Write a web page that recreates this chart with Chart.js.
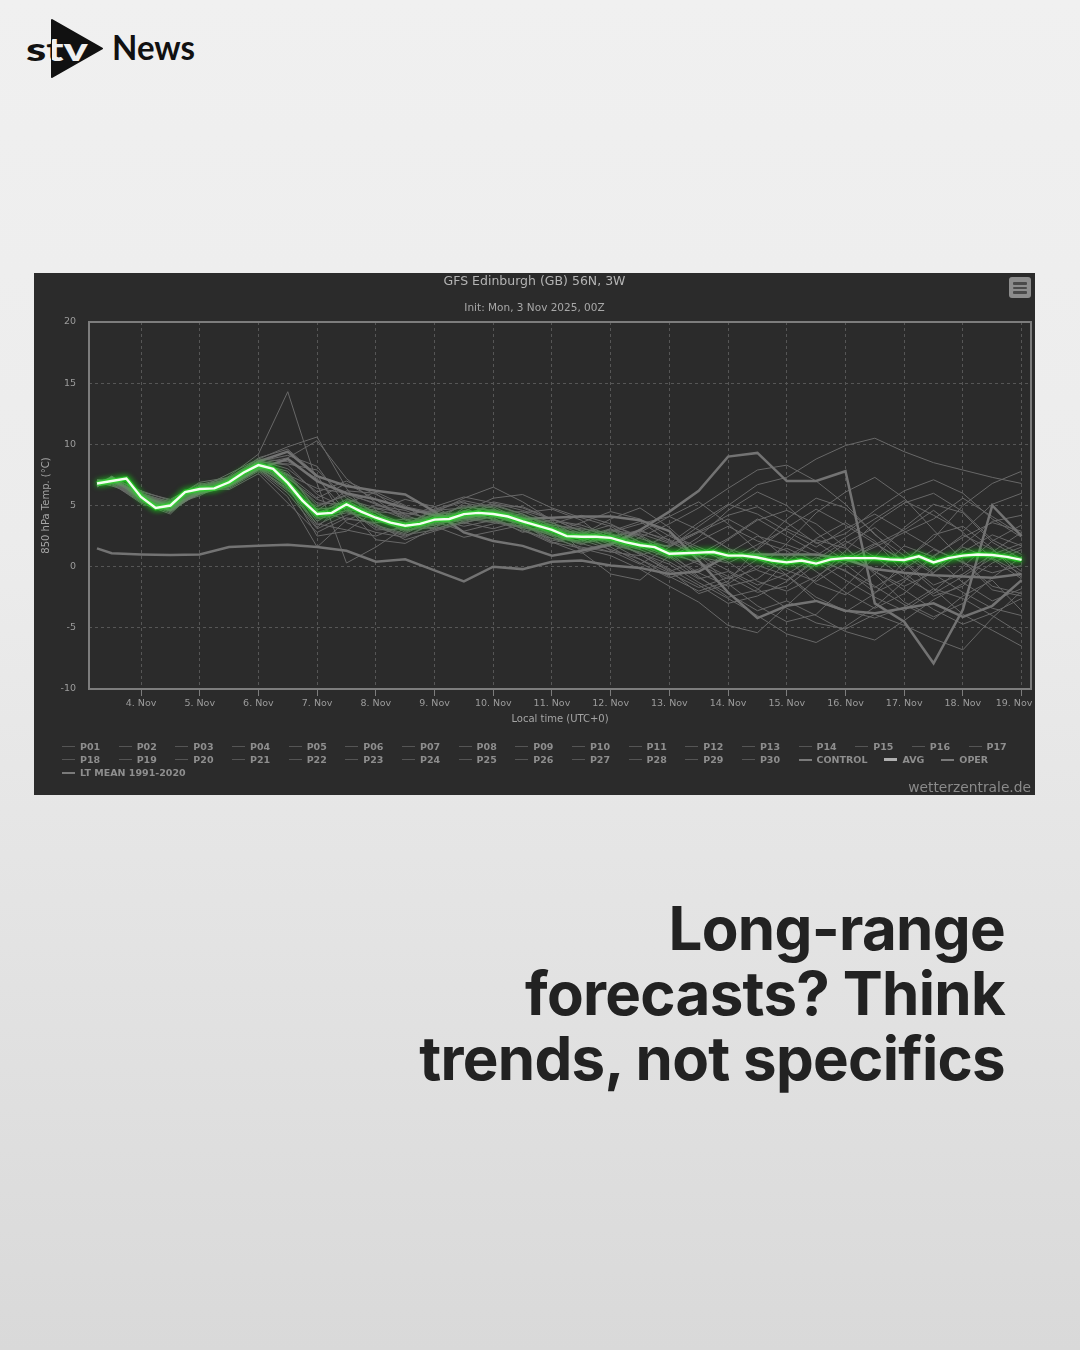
<!DOCTYPE html>
<html>
<head>
<meta charset="utf-8">
<script src="https://cdn.jsdelivr.net/npm/chart.js@4.4.1/dist/chart.umd.min.js"></script>
<style>
  html, body { margin: 0; padding: 0; }
  body {
    width: 1080px; height: 1350px; position: relative; overflow: hidden;
    background: linear-gradient(#f0f0f0 0%, #ececec 40%, #e3e3e3 70%, #d9d9d9 100%);
    font-family: "DejaVu Sans", sans-serif;
  }
  #logo { position: absolute; left: 0; top: 0; }
  #panel { position: absolute; left: 34px; top: 273px; width: 1001px; height: 522px; background: #2b2b2b; }
  #chart { position: absolute; left: 0; top: 0; }
  .ttl { position: absolute; left: 0; width: 1001px; text-align: center; color: #b4b4b4; white-space: nowrap; }
  #t1 { top: 0px; font-size: 12.5px; }
  #t2 { top: 28px; font-size: 10.5px; color: #a8a8a8; }
  #menu { position: absolute; left: 975px; top: 4px; width: 22px; height: 21px; background: #8c8c8c; border-radius: 3px; }
  #menu i { position: absolute; left: 4px; width: 14px; height: 2.5px; background: #4a4a4a; border-radius: 1px; }
  #legend { position: absolute; left: 28px; top: 467px; width: 975px; display: flex; flex-wrap: wrap; }
  .it { display: flex; align-items: center; height: 13px; font-weight: bold; font-size: 9.5px; color: #8e8e8e; white-space: nowrap; }
  .it b { display: inline-block; width: 13px; margin-right: 5px; }
  #credit { position: absolute; right: 4px; top: 506px; font-size: 13.8px; color: #8a8a8a; }
  #headline {
    position: absolute; right: 75px; top: 896px; text-align: right;
    font-family: Inter, "Noto Sans", sans-serif; font-weight: 700; font-size: 60px; line-height: 65px;
    color: #222222; letter-spacing: -0.7px;
  }
</style>
</head>
<body>
<svg id="logo" width="220" height="100" viewBox="0 0 220 100">
  <defs>
    <clipPath id="tri"><polygon points="52,20 102,48.5 52,77"/></clipPath>
  </defs>
  <polygon points="52,20 102,48.5 52,77" fill="#111" stroke="#111" stroke-width="2" stroke-linejoin="round"/>
  <text x="26" y="61" font-family="Lato, sans-serif" font-weight="900" font-size="33" textLength="62" lengthAdjust="spacingAndGlyphs" fill="#111">stv</text>
  <g clip-path="url(#tri)">
    <text x="26" y="61" font-family="Lato, sans-serif" font-weight="900" font-size="33" textLength="62" lengthAdjust="spacingAndGlyphs" fill="#f0f0f0">stv</text>
  </g>
  <text x="112" y="59.5" font-family="Lato, sans-serif" font-weight="700" font-size="33.5" textLength="83" lengthAdjust="spacingAndGlyphs" fill="#111">News</text>
</svg>

<div id="panel">
  <canvas id="chart" width="1001" height="522"></canvas>
  <div class="ttl" id="t1">GFS Edinburgh (GB) 56N, 3W</div>
  <div class="ttl" id="t2">Init: Mon, 3 Nov 2025, 00Z</div>
  <div id="menu"><i style="top:5px"></i><i style="top:9.5px"></i><i style="top:14px"></i></div>
  <div id="legend"></div>
  <div id="credit">wetterzentrale.de</div>
</div>

<div id="headline">Long-range<br>forecasts? Think<br>trends, not specifics</div>

<script>
// x positions in days after 3 Nov 00Z (local time = UTC)
const tickDays = [1, 2, 3, 4, 5, 6, 7, 8, 9, 10, 11, 12, 13, 14, 15, 16];
const tickLabels = ['4. Nov', '5. Nov', '6. Nov', '7. Nov', '8. Nov', '9. Nov', '10. Nov', '11. Nov',
  '12. Nov', '13. Nov', '14. Nov', '15. Nov', '16. Nov', '17. Nov', '18. Nov', '19. Nov'];

// members, control, oper and climate: 12-hourly
const memberDays = [0.25, 0.5, 1, 1.5, 2, 2.5, 3, 3.5, 4, 4.5, 5, 5.5, 6, 6.5, 7, 7.5, 8, 8.5,
  9, 9.5, 10, 10.5, 11, 11.5, 12, 12.5, 13, 13.5, 14, 14.5, 15, 15.5, 16];

const p01 = [6.6,7.2,5.9,4.6,6.0,7.2,8.6,7.4,5.0,5.8,4.4,3.0,3.2,4.8,5.1,4.3,3.1,2.2,3.0,2.6,1.2,-0.8,-2.5,-1.9,0.4,2.3,3.6,2.1,-0.5,-2.4,-1.6,1.2,2.8];
const p02 = [7.0,6.8,5.2,4.3,6.6,7.0,8.9,9.6,7.5,3.6,2.8,2.4,3.6,5.2,4.8,3.0,1.9,2.6,3.9,4.8,3.2,1.0,-1.4,-3.2,-4.5,-3.9,-1.6,0.8,3.2,5.1,4.4,2.0,0.6];
const p03 = [6.5,7.3,6.1,5.5,6.8,6.5,7.9,6.0,3.1,4.2,5.0,4.6,3.7,2.9,3.5,4.4,4.7,3.8,1.9,0.6,-0.8,-2.0,-1.2,1.5,3.9,5.6,4.8,2.7,0.3,-1.8,-3.9,-5.2,-6.5];
const p04 = [7.1,7.0,5.5,5.2,5.9,7.4,9.2,14.3,6.8,0.3,1.6,3.2,4.4,5.6,6.5,5.3,3.8,1.2,-0.6,-1.1,0.9,2.4,4.6,6.1,5.0,2.8,0.9,-0.4,-1.6,-0.5,1.8,3.7,4.2];
const p05 = [6.9,6.6,5.8,4.9,6.3,6.7,8.0,7.0,3.7,5.2,6.1,5.0,3.3,2.4,2.9,3.4,2.5,1.4,1.9,2.8,4.1,5.3,3.5,1.3,-0.7,-2.8,-3.7,-2.2,0.4,2.6,3.3,1.5,-0.9];
const p06 = [6.7,7.1,5.4,4.5,6.1,7.1,8.4,8.9,10.3,7.2,5.2,4.1,4.9,5.7,5.2,4.6,3.9,3.2,2.4,1.0,-0.4,0.5,2.2,3.8,4.6,3.5,1.6,-0.6,-2.9,-4.1,-3.0,-0.9,0.8];
const p07 = [6.6,7.4,6.0,5.1,6.5,6.3,7.6,5.2,2.8,4.0,3.5,2.2,2.9,3.6,4.1,3.5,2.0,1.5,0.9,-0.2,-1.6,-2.9,-4.8,-5.4,-3.2,-1.0,1.3,3.6,5.2,6.0,4.5,2.2,1.0];
const p08 = [7.0,7.2,5.6,4.9,6.4,7.6,8.8,9.8,10.6,6.4,3.4,2.7,3.9,4.5,5.6,5.9,4.8,4.0,3.3,2.0,1.3,0.2,-1.0,-0.2,1.9,4.4,6.1,7.3,5.6,3.0,0.5,-1.9,-2.4];
const p09 = [6.8,6.9,5.9,5.3,6.2,6.6,8.1,6.3,3.5,3.0,2.5,3.4,4.6,5.3,4.0,2.8,3.5,4.2,3.5,2.3,1.6,2.8,3.9,2.6,0.6,-1.4,-2.3,-0.6,1.7,0.8,-1.3,-2.8,-1.8];
const p10 = [6.7,7.0,5.3,4.7,6.6,7.2,8.5,7.6,4.6,6.2,6.0,4.2,3.4,4.1,4.7,3.9,2.6,1.8,2.9,3.7,2.1,0.8,0.3,1.4,3.2,4.7,3.4,1.9,0.5,2.3,5.0,6.8,7.8];
const p11 = [6.9,7.1,5.7,5.0,5.8,7.0,8.2,6.6,2.5,2.9,4.6,5.5,4.9,3.6,3.1,3.8,2.6,1.9,1.2,2.4,3.5,4.8,6.4,7.9,8.3,7.0,5.1,2.6,0.9,-0.6,-2.1,-3.4,-4.0];
const p12 = [6.6,7.3,6.2,5.4,6.9,7.3,8.7,8.0,6.1,7.0,5.9,4.9,4.4,3.5,4.5,4.1,3.0,2.2,1.4,0.6,-0.5,-1.7,-0.9,0.6,1.5,0.4,-1.1,-2.5,-3.6,-2.0,0.0,2.1,3.4];
const p13 = [7.0,6.7,5.5,4.8,6.1,6.4,7.8,5.7,1.6,3.8,4.8,3.9,3.0,4.0,5.3,4.8,3.9,2.9,2.0,1.1,0.2,-1.3,-2.6,-4.0,-5.5,-6.2,-4.9,-3.3,-1.2,0.8,2.6,1.4,-0.4];
const p14 = [6.8,7.2,5.9,5.1,6.4,6.9,8.3,7.2,5.5,4.7,3.2,2.5,3.6,4.6,4.2,3.5,3.4,3.1,2.7,1.9,1.7,2.9,4.2,4.9,3.6,1.9,2.7,4.6,6.2,7.1,6.0,3.9,2.4];
const p15 = [6.9,7.0,5.8,5.2,6.3,7.1,8.5,8.4,7.9,5.6,4.4,3.5,4.2,4.9,4.6,3.6,2.1,2.7,3.4,2.5,0.9,-0.5,-1.6,-1.0,0.8,2.2,1.5,-0.4,-1.9,-3.5,-4.7,-3.8,-2.6];
const p16 = [6.7,6.8,5.6,4.6,6.2,6.8,8.0,6.2,4.9,5.9,5.2,4.0,3.8,3.9,4.4,4.5,3.6,2.4,1.6,0.3,-0.9,-0.2,1.1,2.5,1.8,0.9,2.4,3.9,5.4,4.2,2.9,5.1,6.0];
const p17 = [6.8,7.1,5.5,5.0,6.6,7.0,8.2,7.1,3.9,4.4,3.9,3.0,4.1,4.0,3.7,3.3,2.8,3.6,4.5,3.9,2.5,1.4,0.4,-1.2,-2.0,-0.8,0.7,1.9,0.4,-1.5,-0.6,1.0,1.9];
const p18 = [6.6,7.2,6.0,5.3,6.5,6.8,8.6,9.1,8.2,5.0,2.2,1.9,3.2,4.3,5.0,4.9,3.9,2.9,1.3,0.2,1.6,3.3,5.0,6.7,7.3,8.8,9.9,10.5,9.4,8.5,7.9,7.3,6.8];
const p19 = [7.0,6.9,5.7,4.9,6.0,7.3,8.4,7.5,5.6,6.8,5.5,3.8,3.1,3.7,4.3,3.8,3.2,2.5,2.0,1.4,0.4,-1.0,-0.4,-1.8,-3.4,-4.6,-5.1,-3.9,-4.8,-5.9,-6.8,-4.2,-2.0];
const p20 = [6.7,7.0,5.4,4.4,6.3,6.6,8.1,6.8,4.0,4.6,4.5,4.3,4.6,4.8,3.8,2.9,2.3,2.1,2.8,3.5,4.1,3.0,1.5,0.6,-0.3,-1.2,0.3,1.8,3.0,4.6,2.8,0.7,1.6];
const p21 = [6.9,7.3,5.8,5.1,6.6,7.1,8.3,6.5,3.2,5.4,4.2,2.8,4.0,5.0,4.5,4.0,3.6,2.7,1.8,1.2,-0.2,-1.5,-3.0,-2.4,-1.2,0.5,-0.3,-2.1,-1.0,0.9,2.4,3.6,2.9];
const p22 = [6.8,6.9,5.6,5.0,6.2,7.0,8.4,7.8,4.5,3.9,3.6,3.9,3.5,4.2,5.0,4.3,3.3,2.6,2.5,2.9,2.2,1.0,2.3,3.9,2.5,1.2,0.2,-1.6,-3.1,-4.3,-2.4,-1.1,-3.6];
const p23 = [6.7,7.1,5.9,4.8,6.4,6.9,8.3,6.9,4.2,5.5,4.8,4.4,3.9,3.3,3.8,3.2,2.7,2.0,3.1,1.6,0.7,2.1,3.3,2.1,1.3,-0.4,-2.1,-3.4,-2.2,-0.1,1.6,0.6,-1.0];
const p24 = [7.0,7.0,5.7,5.1,6.5,7.2,8.6,8.3,5.9,4.8,3.0,3.1,4.3,4.4,3.9,3.1,2.0,1.1,1.8,2.7,1.9,3.6,5.1,4.3,2.9,1.6,3.1,4.3,2.9,1.5,0.3,-0.5,0.1];
const p25 = [6.6,6.8,5.3,4.7,6.0,6.7,8.0,6.4,4.4,5.3,3.8,3.0,3.4,4.0,4.6,4.2,3.4,3.0,2.2,1.0,-0.3,-2.2,-1.4,0.1,-0.7,-2.5,-3.6,-4.2,-3.3,-1.8,-2.6,-4.0,-5.5];
const p26 = [6.9,7.2,5.8,5.2,6.7,7.3,8.8,8.6,7.2,4.5,3.9,3.4,4.7,5.4,4.9,3.8,3.1,2.4,3.1,2.0,1.0,0.4,-0.8,-2.1,-1.6,0.2,1.9,3.2,1.3,-0.5,1.2,2.6,1.7];
const p27 = [6.8,7.1,5.6,4.9,6.3,6.8,8.2,7.0,4.7,4.9,4.6,2.9,3.6,3.8,4.1,3.5,3.8,3.4,2.6,1.8,0.8,-0.9,-2.2,-3.6,-2.8,-4.0,-5.3,-6.0,-4.4,-2.7,-1.4,0.3,1.4];
const p28 = [6.7,6.9,5.9,5.1,6.1,7.0,8.5,7.3,5.2,5.1,4.1,3.6,3.8,4.5,4.4,4.0,3.0,2.8,2.1,1.5,2.6,1.6,0.6,1.8,3.1,2.0,0.5,1.6,2.8,3.9,5.6,4.1,2.6];
const p29 = [7.1,7.0,5.5,5.0,6.5,6.9,8.1,6.7,3.4,4.6,3.3,2.6,3.0,3.6,4.1,3.4,2.3,1.6,1.2,0.9,1.8,2.9,1.5,-0.3,-1.1,0.6,2.1,0.8,-0.9,-2.2,-0.8,0.7,-0.6];
const p30 = [6.8,7.1,5.7,5.0,6.4,7.0,8.3,7.5,6.4,6.0,5.1,4.3,4.6,3.9,3.6,3.2,2.6,1.9,2.4,3.0,2.0,0.9,-0.3,-1.5,-0.6,0.8,-0.4,-1.7,-0.2,1.4,0.4,-1.6,-2.2];

const memberNames = ['P01','P02','P03','P04','P05','P06','P07','P08','P09','P10','P11','P12','P13','P14','P15',
  'P16','P17','P18','P19','P20','P21','P22','P23','P24','P25','P26','P27','P28','P29','P30'];
const memberTemps = [p01,p02,p03,p04,p05,p06,p07,p08,p09,p10,p11,p12,p13,p14,p15,
  p16,p17,p18,p19,p20,p21,p22,p23,p24,p25,p26,p27,p28,p29,p30];

const controlTemps = [6.9,7.1,5.8,4.9,6.0,6.6,8.0,8.8,7.0,6.0,5.5,4.8,4.2,4.0,4.3,3.9,4.0,4.1,4.1,3.8,2.9,0.5,-2.1,-4.2,-3.2,-2.8,-3.6,-3.8,-3.4,-3.0,-4.1,-3.2,-1.1];
const operTemps = [6.6,7.3,5.6,4.6,6.2,6.8,8.6,9.4,7.4,6.6,6.2,5.9,4.5,2.8,2.1,1.7,0.9,1.3,1.8,3.0,4.5,6.2,9.0,9.3,7.0,7.0,7.8,-3.0,-4.5,-7.9,-3.5,5.0,2.5];
const ltMeanTemps = [1.5,1.1,1.0,0.95,1.0,1.6,1.7,1.8,1.6,1.3,0.4,0.6,-0.3,-1.2,0.0,-0.2,0.4,0.5,0.1,-0.1,-0.6,-0.4,0.9,1.0,1.0,1.0,0.6,-0.2,-0.5,-0.7,-0.8,-0.9,-0.6];

// ensemble mean: 6-hourly
const avgDays = [0.25,0.5,0.75,1,1.25,1.5,1.75,2,2.25,2.5,2.75,3,3.25,3.5,3.75,4,4.25,4.5,4.75,5,
  5.25,5.5,5.75,6,6.25,6.5,6.75,7,7.25,7.5,7.75,8,8.25,8.5,8.75,9,9.25,9.5,9.75,10,
  10.25,10.5,10.75,11,11.25,11.5,11.75,12,12.25,12.5,12.75,13,13.25,13.5,13.75,14,14.25,14.5,14.75,15,
  15.25,15.5,15.75,16];
const avgTemps = [6.8,7.0,7.2,5.7,4.8,5.0,6.1,6.35,6.4,6.9,7.7,8.3,8.0,6.85,5.4,4.3,4.4,5.1,4.5,4.0,
  3.6,3.35,3.5,3.85,3.9,4.3,4.4,4.3,4.1,3.7,3.35,3.0,2.5,2.45,2.45,2.35,2.0,1.75,1.6,1.05,
  1.1,1.15,1.2,0.9,0.9,0.75,0.5,0.35,0.5,0.25,0.6,0.7,0.7,0.7,0.6,0.55,0.85,0.35,0.7,0.9,
  1.0,0.95,0.8,0.55];

const pts = (xs, ys) => xs.map((x, i) => ({ x: x, y: ys[i] }));

const thin = '#686868';
const thick = '#737373';

const datasets = [];
datasets.push({ label: 'AVG', data: pts(avgDays, avgTemps), borderColor: '#f4fff0', borderWidth: 2.4, order: 0, glow: '#2bff2b' });
datasets.push({ label: 'AVG glow', data: pts(avgDays, avgTemps), borderColor: 'rgba(40,215,40,0.6)', borderWidth: 5, order: 1, glow: '#00e000' });
datasets.push({ label: 'CONTROL', data: pts(memberDays, controlTemps), borderColor: thick, borderWidth: 2.5, order: 2 });
datasets.push({ label: 'OPER', data: pts(memberDays, operTemps), borderColor: thick, borderWidth: 2.5, order: 2 });
datasets.push({ label: 'LT MEAN 1991-2020', data: pts(memberDays, ltMeanTemps), borderColor: thick, borderWidth: 2.5, order: 2 });
memberTemps.forEach((vals, i) => {
  datasets.push({ label: memberNames[i], data: pts(memberDays, vals), borderColor: thin, borderWidth: 1, order: 3 });
});

// highcharts style glow on the mean
const glowPlugin = {
  id: 'glow',
  beforeDatasetDraw(chart, args) {
    const ds = chart.data.datasets[args.index];
    if (ds.glow) {
      chart.ctx.save();
      chart.ctx.shadowColor = ds.glow;
      chart.ctx.shadowBlur = 6;
    }
  },
  afterDatasetDraw(chart, args) {
    if (chart.data.datasets[args.index].glow) chart.ctx.restore();
  }
};

const frame = {
  id: 'frame',
  afterDatasetsDraw(chart) {
    const { ctx, chartArea: a } = chart;
    ctx.save();
    ctx.strokeStyle = '#7d7d7d';
    ctx.lineWidth = 2;
    ctx.strokeRect(a.left, a.top, a.right - a.left, a.bottom - a.top);
    ctx.restore();
  }
};

Chart.defaults.font.family = '"DejaVu Sans", sans-serif';

new Chart(document.getElementById('chart'), {
  type: 'line',
  data: { datasets },
  options: {
    responsive: false,
    animation: false,
    layout: { padding: { top: 49, right: 4, left: 0, bottom: 0 } },
    elements: { point: { radius: 0 }, line: { tension: 0 } },
    plugins: { legend: { display: false }, tooltip: { enabled: false } },
    scales: {
      x: {
        type: 'linear', min: 0.114, max: 16.16,
        afterBuildTicks: s => { s.ticks = tickDays.map(v => ({ value: v })); },
        afterFit: s => { s.height = 106; s.paddingLeft = 0; s.paddingRight = 0; },
        grid: { color: '#565656', lineWidth: 1, tickLength: 7, tickColor: '#7d7d7d', tickBorderDash: [] },
        border: { display: false, dash: [3, 3] },
        ticks: {
          color: '#9c9c9c', font: { size: 9.5 }, padding: 2, maxRotation: 0, autoSkip: false,
          // the last label is kept inside the frame, as in the original
          callback: (v) => {
            const i = tickDays.indexOf(v);
            return i === tickDays.length - 1 ? tickLabels[i] + '\u00a0\u00a0\u00a0\u00a0\u00a0' : tickLabels[i];
          }
        },
        title: { display: true, text: 'Local time (UTC+0)', color: '#a4a4a4', font: { size: 10 }, padding: { top: 0, bottom: 70 } }
      },
      y: {
        min: -10, max: 20,
        afterFit: s => { s.width = 55; },
        grid: { color: '#565656', lineWidth: 1, drawTicks: false },
        border: { display: false, dash: [3, 3] },
        ticks: { stepSize: 5, color: '#9c9c9c', font: { size: 9.5 }, padding: 13 },
        title: { display: true, text: '850 hPa Temp. (°C)', color: '#a4a4a4', font: { size: 10 }, padding: { top: 6, bottom: 0 } }
      }
    }
  },
  plugins: [glowPlugin, frame]
});

// legend built like the original (17 per row)
const legendItems = memberNames.map(n => ({ name: n, w: 1, c: '#555555' }))
  .concat([
    { name: 'CONTROL', w: 2, c: '#7a7a7a' },
    { name: 'AVG', w: 3, c: '#b0b0b0' },
    { name: 'OPER', w: 2, c: '#7a7a7a' },
    { name: 'LT MEAN 1991-2020', w: 2, c: '#7a7a7a' }
  ]);
const legend = document.getElementById('legend');
legendItems.forEach(it => {
  const el = document.createElement('div');
  el.className = 'it';
  if (it.name.startsWith('P')) el.style.width = '56.67px';
  else el.style.marginRight = '17px';
  el.innerHTML = '<b style="height:' + it.w + 'px;background:' + it.c + '"></b>' + it.name;
  legend.appendChild(el);
});
</script>
</body>
</html>
